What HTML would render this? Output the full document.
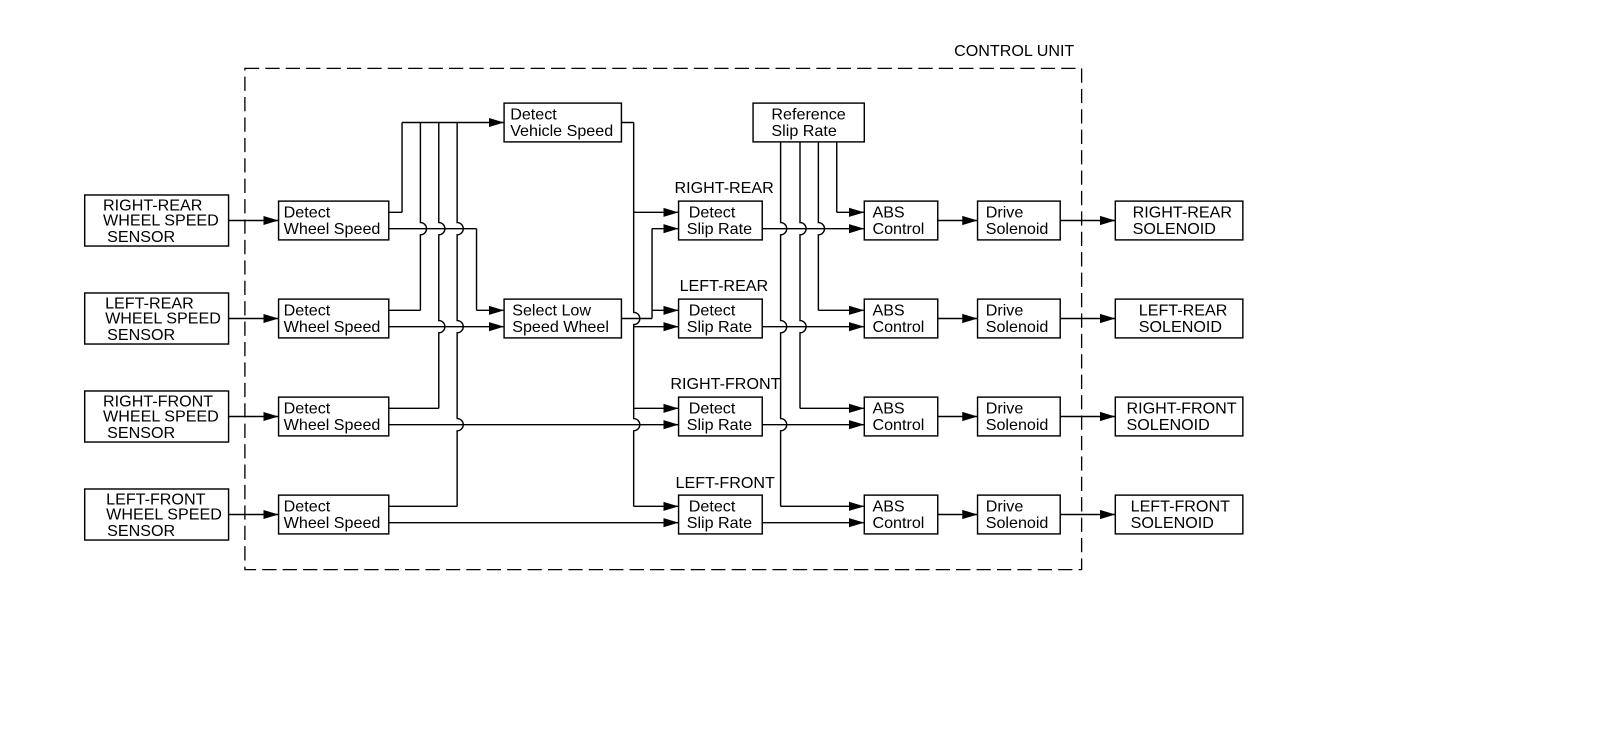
<!DOCTYPE html>
<html><head><meta charset="utf-8"><style>
html,body{margin:0;padding:0;background:#fff;}
svg{display:block;}
text{font-family:"Liberation Sans",Arial,sans-serif;font-size:15.8px;fill:#000;}
</style></head><body>
<svg width="1600" height="734" viewBox="0 0 1568 719" preserveAspectRatio="none" xmlns="http://www.w3.org/2000/svg">
<defs><marker id="a" markerWidth="16" markerHeight="10" refX="15" refY="5" orient="auto" markerUnits="userSpaceOnUse"><path d="M0,0.5 L15,5 L0,9.5 Z" fill="#000"/></marker></defs>
<rect x="0" y="0" width="1568" height="719" fill="#fff"/>
<rect x="240" y="67" width="820" height="491" fill="none" stroke="#000" stroke-width="1.3" stroke-dasharray="14,6"/>
<text x="935" y="55">CONTROL UNIT</text>
<g fill="none" stroke="#000" stroke-width="1.4">
<rect x="83" y="191" width="141" height="50"/><rect x="83" y="287" width="141" height="50"/>
<rect x="83" y="383" width="141" height="50"/><rect x="83" y="479" width="141" height="50"/>
<rect x="273" y="197" width="108" height="38"/><rect x="273" y="293" width="108" height="38"/>
<rect x="273" y="389" width="108" height="38"/><rect x="273" y="485" width="108" height="38"/>
<rect x="494" y="101" width="115" height="38"/><rect x="494" y="293" width="115" height="38"/>
<rect x="738" y="101" width="109" height="38"/>
<rect x="665" y="197" width="82" height="38"/><rect x="665" y="293" width="82" height="38"/>
<rect x="665" y="389" width="82" height="38"/><rect x="665" y="485" width="82" height="38"/>
<rect x="847" y="197" width="72" height="38"/><rect x="847" y="293" width="72" height="38"/>
<rect x="847" y="389" width="72" height="38"/><rect x="847" y="485" width="72" height="38"/>
<rect x="958" y="197" width="81" height="38"/><rect x="958" y="293" width="81" height="38"/>
<rect x="958" y="389" width="81" height="38"/><rect x="958" y="485" width="81" height="38"/>
<rect x="1093" y="197" width="125" height="38"/><rect x="1093" y="293" width="125" height="38"/>
<rect x="1093" y="389" width="125" height="38"/><rect x="1093" y="485" width="125" height="38"/>
<path d="M394 208 V120"/>
<path d="M412 120 V218 A6 6 0 0 1 412 230 V304"/>
<path d="M430 120 V218 A6 6 0 0 1 430 230 V314 A6 6 0 0 1 430 326 V400"/>
<path d="M448 120 V218 A6 6 0 0 1 448 230 V314 A6 6 0 0 1 448 326 V410 A6 6 0 0 1 448 422 V496"/>
<path d="M467 224 V304"/>
<path d="M621 120 V306 A6 6 0 0 1 621 318 V410 A6 6 0 0 1 621 422 V496"/>
<path d="M639 312 V224"/>
<path d="M765 139 V218 A6 6 0 0 1 765 230 V314 A6 6 0 0 1 765 326 V410 A6 6 0 0 1 765 422 V496"/>
<path d="M784 139 V218 A6 6 0 0 1 784 230 V314 A6 6 0 0 1 784 326 V400"/>
<path d="M802 139 V218 A6 6 0 0 1 802 230 V304"/>
<path d="M820 139 V208"/>
<path d="M381 208 H394 M381 224 H467 M381 304 H412 M381 400 H430 M381 496 H448 M609 120 H621 M609 312 H639"/>
</g>
<g fill="none" stroke="#000" stroke-width="1.4" marker-end="url(#a)">
<path d="M224 216 H273"/><path d="M224 312 H273"/><path d="M224 408 H273"/><path d="M224 504 H273"/>
<path d="M394 120 H494"/><path d="M467 304 H494"/><path d="M381 320 H494"/>
<path d="M381 416 H665"/><path d="M381 512 H665"/>
<path d="M621 208 H665"/><path d="M621 320 H665"/><path d="M621 400 H665"/><path d="M621 496 H665"/>
<path d="M639 224 H665"/><path d="M639 304 H665"/>
<path d="M747 224 H847"/><path d="M747 320 H847"/><path d="M747 416 H847"/><path d="M747 512 H847"/>
<path d="M820 208 H847"/><path d="M802 304 H847"/><path d="M784 400 H847"/><path d="M765 496 H847"/>
<path d="M919 216 H958"/><path d="M919 312 H958"/><path d="M919 408 H958"/><path d="M919 504 H958"/>
<path d="M1039 216 H1093"/><path d="M1039 312 H1093"/><path d="M1039 408 H1093"/><path d="M1039 504 H1093"/>
</g>
<text x="101" y="206">RIGHT-REAR</text><text x="101" y="221">WHEEL SPEED</text><text x="105" y="237">SENSOR</text>
<text x="103" y="302">LEFT-REAR</text><text x="103" y="317">WHEEL SPEED</text><text x="105" y="333">SENSOR</text>
<text x="101" y="398">RIGHT-FRONT</text><text x="101" y="413">WHEEL SPEED</text><text x="105" y="429">SENSOR</text>
<text x="104" y="494">LEFT-FRONT</text><text x="104" y="509">WHEEL SPEED</text><text x="105" y="525">SENSOR</text>
<text x="278" y="213">Detect</text><text x="278" y="229">Wheel Speed</text>
<text x="278" y="309">Detect</text><text x="278" y="325">Wheel Speed</text>
<text x="278" y="405">Detect</text><text x="278" y="421">Wheel Speed</text>
<text x="278" y="501">Detect</text><text x="278" y="517">Wheel Speed</text>
<text x="500" y="117">Detect</text><text x="500" y="133">Vehicle Speed</text>
<text x="502" y="309">Select Low</text><text x="502" y="325">Speed Wheel</text>
<text x="756" y="117">Reference</text><text x="756" y="133">Slip Rate</text>
<text x="661" y="189">RIGHT-REAR</text><text x="666" y="285">LEFT-REAR</text>
<text x="657" y="381">RIGHT-FRONT</text><text x="662" y="478">LEFT-FRONT</text>
<text x="675" y="213">Detect</text><text x="673" y="229">Slip Rate</text>
<text x="675" y="309">Detect</text><text x="673" y="325">Slip Rate</text>
<text x="675" y="405">Detect</text><text x="673" y="421">Slip Rate</text>
<text x="675" y="501">Detect</text><text x="673" y="517">Slip Rate</text>
<text x="855" y="213">ABS</text><text x="855" y="229">Control</text>
<text x="855" y="309">ABS</text><text x="855" y="325">Control</text>
<text x="855" y="405">ABS</text><text x="855" y="421">Control</text>
<text x="855" y="501">ABS</text><text x="855" y="517">Control</text>
<text x="966" y="213">Drive</text><text x="966" y="229">Solenoid</text>
<text x="966" y="309">Drive</text><text x="966" y="325">Solenoid</text>
<text x="966" y="405">Drive</text><text x="966" y="421">Solenoid</text>
<text x="966" y="501">Drive</text><text x="966" y="517">Solenoid</text>
<text x="1110" y="213">RIGHT-REAR</text><text x="1110" y="229">SOLENOID</text>
<text x="1116" y="309">LEFT-REAR</text><text x="1116" y="325">SOLENOID</text>
<text x="1104" y="405">RIGHT-FRONT</text><text x="1104" y="421">SOLENOID</text>
<text x="1108" y="501">LEFT-FRONT</text><text x="1108" y="517">SOLENOID</text>
</svg>
</body></html>
